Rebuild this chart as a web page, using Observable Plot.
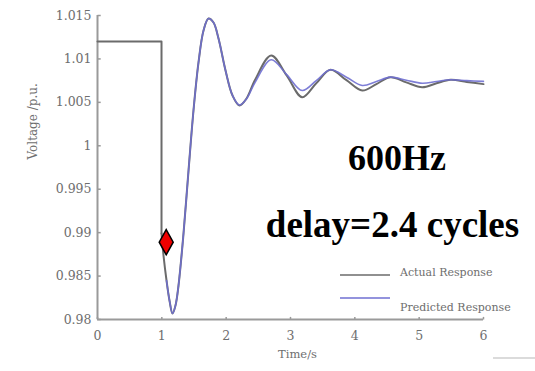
<!DOCTYPE html>
<html>
<head>
<meta charset="utf-8">
<script src="https://cdn.jsdelivr.net/npm/d3@7"></script>
<script src="https://cdn.jsdelivr.net/npm/@observablehq/plot@0.6"></script>
<style>
  html, body { margin: 0; padding: 0; background: #fff; }
  #chart { width: 535px; height: 371px; }
</style>
</head>
<body>
<div id="chart"></div>
<script>
// ---- data ----
const stepTime  = [0, 0.995, 0.995];
const stepValue = [1.012, 1.012, 0.9899];

const respTime = [0.995, 1.026, 1.073, 1.119, 1.166, 1.212, 1.259, 1.337, 1.415, 1.492, 1.570, 1.648, 1.725, 1.803, 1.881, 1.990, 2.099, 2.207, 2.316, 2.45, 2.70, 2.94, 3.182, 3.40, 3.622, 3.87, 4.115, 4.335, 4.555, 4.80, 5.047, 5.27, 5.488, 5.74, 6.0];
const actual   = [0.9899, 0.98737, 0.98449, 0.98219, 0.98069, 0.98161, 0.98391, 0.9899, 0.99715, 1.00406, 1.00959, 1.01327, 1.01465, 1.01419, 1.01235, 1.00867, 1.00579, 1.00464, 1.00544, 1.0076, 1.0104, 1.0081, 1.00559, 1.0072, 1.00875, 1.00755, 1.00636, 1.0071, 1.0079, 1.0073, 1.00674, 1.0072, 1.0076, 1.00735, 1.0071];
const predicted = [null, null, 0.98449, 0.98219, 0.98069, 0.98161, 0.98391, 0.9899, 0.99715, 1.00406, 1.00959, 1.01327, 1.01465, 1.01419, 1.01235, 1.00867, 1.00579, 1.0047, 1.0054, 1.0073, 1.0099, 1.0082, 1.00636, 1.0075, 1.00875, 1.0079, 1.00694, 1.0074, 1.0079, 1.00755, 1.0072, 1.0074, 1.0076, 1.0075, 1.00742];

const markerTime  = [1.068];
const markerValue = [0.9889];

const xTicks = [0, 1, 2, 3, 4, 5, 6];
const yTicks = [0.98, 0.985, 0.99, 0.995, 1, 1.005, 1.01, 1.015];

const seriesNames  = ["Actual Response", "Predicted Response"];
const seriesColors = ["#6b6b6b", "#6f6fd2"];
const annotations  = ["600Hz", "delay=2.4 cycles"];
const xLabel = "Time/s";
const yLabel = "Voltage /p.u.";

// ---- tables ----
const step = stepTime.map((t, i) => ({t, v: stepValue[i]}));
const resp = respTime.map((t, i) => ({t, a: actual[i], p: predicted[i]}));
const marker = markerTime.map((t, i) => ({t, v: markerValue[i]}));

const tallDiamond = {
  draw(ctx, size) {
    const r = Math.sqrt(size / Math.PI);
    ctx.moveTo(0, -r * 1.8);
    ctx.lineTo(r, 0);
    ctx.lineTo(0, r * 1.8);
    ctx.lineTo(-r, 0);
    ctx.closePath();
  }
};

const axisColor = "#9a9a9a";
const textColor = "#6e6e6e";

const plot = Plot.plot({
  width: 535,
  height: 371,
  marginLeft: 97,
  marginRight: 52,
  marginTop: 15,
  marginBottom: 52,
  style: {fontFamily: "'DejaVu Serif', serif", fontSize: "12.5px", color: textColor, background: "#fff"},
  x: {domain: [0, 6]},
  y: {domain: [0.98, 1.015]},
  marks: [
    // axis lines
    Plot.ruleX([0], {y1: 0.98, y2: 1.015, stroke: axisColor, strokeWidth: 2}),
    Plot.ruleY([0.98], {x1: 0, x2: 6, stroke: axisColor, strokeWidth: 2}),
    // inward tick marks
    Plot.link(yTicks, {x1: 0, x2: 0.05, y1: d => d, y2: d => d, stroke: axisColor, strokeWidth: 1.5}),
    Plot.link(xTicks, {x1: d => d, x2: d => d, y1: 0.98, y2: 0.9803, stroke: axisColor, strokeWidth: 1.5}),
    Plot.axisY({ticks: yTicks, tickSize: 0, tickPadding: 6, tickFormat: d => String(d), label: null}),
    Plot.axisX({ticks: xTicks, tickSize: 0, tickPadding: 12, tickFormat: d => String(d), label: null}),
    // series
    Plot.line(step, {x: "t", y: "v", stroke: seriesColors[0], strokeWidth: 2}),
    Plot.line(resp, {x: "t", y: "a", stroke: seriesColors[0], strokeWidth: 2, curve: "catmull-rom"}),
    Plot.line(resp, {x: "t", y: "p", stroke: seriesColors[1], strokeWidth: 1.6, strokeOpacity: 0.9, curve: "catmull-rom"}),
    Plot.dot(marker, {x: "t", y: "v", symbol: tallDiamond, r: 7, fill: "#ee0000", stroke: "#000", strokeWidth: 1.5}),
    // axis labels
    Plot.text([xLabel], {text: d => d, frameAnchor: "bottom", dx: 7, dy: 35, lineAnchor: "middle", fontSize: 11.5, fill: textColor}),
    Plot.text([yLabel], {text: d => d, frameAnchor: "left", dx: -64, dy: -8, rotate: -90, lineAnchor: "middle", fontSize: 12, fill: textColor}),
    // annotations
    Plot.text([annotations[0]], {text: d => d, frameAnchor: "top-left", dx: 299.5, dy: 142.5, lineAnchor: "middle", textAnchor: "middle",
      fontFamily: "'Liberation Serif', 'Times New Roman', serif", fontWeight: "bold", fontSize: 36, fill: "#000"}),
    Plot.text([annotations[1]], {text: d => d, frameAnchor: "top-left", dx: 295, dy: 210, lineAnchor: "middle", textAnchor: "middle",
      fontFamily: "'Liberation Serif', 'Times New Roman', serif", fontWeight: "bold", fontSize: 37, fill: "#000"})
  ]
});

document.getElementById("chart").appendChild(plot);

// ---- legend ----
const svg = d3.select(plot);
const lg = svg.append("g").attr("class", "legend").attr("text-anchor", "start");
const legendRows = [275, 298];
const legendTextY = [272, 307];
seriesNames.forEach((name, i) => {
  lg.append("line")
    .attr("x1", 340).attr("x2", 390)
    .attr("y1", legendRows[i]).attr("y2", legendRows[i])
    .attr("stroke", seriesColors[i]).attr("stroke-width", 1.6);
  lg.append("text")
    .attr("x", 400).attr("y", legendTextY[i])
    .attr("dy", "0.32em")
    .attr("text-anchor", "start")
    .attr("font-family", "'DejaVu Serif', serif")
    .attr("font-size", 11)
    .attr("fill", textColor)
    .text(name);
});
// faint stray line at bottom right of the reference
lg.append("line").attr("x1", 493).attr("x2", 535).attr("y1", 358).attr("y2", 358)
  .attr("stroke", "#cfcfcf").attr("stroke-width", 1.5);
</script>
</body>
</html>
